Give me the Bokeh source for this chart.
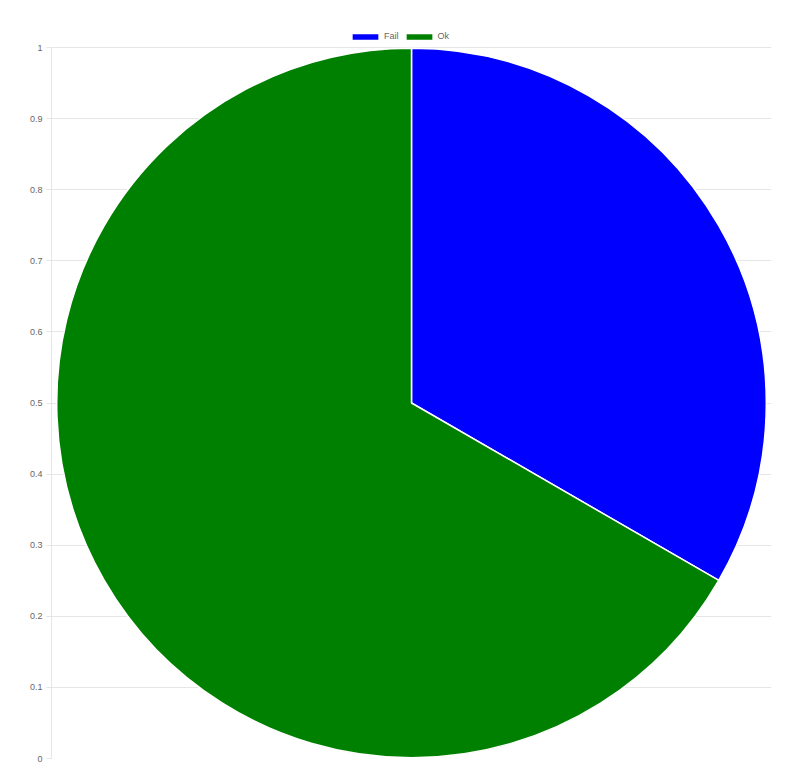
from math import pi

from bokeh.embed import file_html
from bokeh.models import ColumnDataSource, FixedTicker, Legend, LegendItem, Range1d
from bokeh.plotting import figure
from bokeh.resources import INLINE

# data
statuses = ["Fail", "Ok"]
counts = [1, 2]
colors = ["#0000ff", "#008000"]
y_ticks = [0, 0.1, 0.2, 0.3, 0.4, 0.5, 0.6, 0.7, 0.8, 0.9, 1]
y_tick_labels = ["0", "0.1", "0.2", "0.3", "0.4", "0.5", "0.6", "0.7", "0.8", "0.9", "1"]


def make_source():
    total = float(sum(counts))
    starts, ends = [], []
    acc = 0.0
    for c in counts:
        # start at 12 o'clock and go clockwise
        starts.append(pi / 2 - 2 * pi * acc / total)
        acc += c
        ends.append(pi / 2 - 2 * pi * acc / total)
    return ColumnDataSource(dict(status=statuses, count=counts, color=colors,
                                 start=starts, end=ends))


def pie():
    # 711px per unit on both axes, extra 25px on top holds the legend
    px = 711.0
    frame_w = 720
    aspect = frame_w / px
    top_pad = 25 / px

    p = figure(width=792, height=770,
               min_border_left=51, min_border_right=21, min_border_top=22,
               min_border_bottom=12, toolbar_location=None, output_backend="svg",
               x_range=Range1d(0, aspect), y_range=Range1d(0, 1 + top_pad))
    p.outline_line_color = None

    src = make_source()
    r = p.wedge(x=aspect / 2, y=0.5, radius=0.499, start_angle="start", end_angle="end",
                direction="clock", fill_color="color", line_color="white", line_width=1.5,
                source=src)

    p.xaxis.visible = False
    p.xgrid.visible = False

    ax = p.yaxis[0]
    ax.bounds = (0, 1)
    ax.ticker = FixedTicker(ticks=y_ticks)
    ax.major_label_overrides = dict(zip(y_ticks, y_tick_labels))
    ax.axis_line_color = "#e6e6e6"
    ax.major_tick_line_color = "#e6e6e6"
    ax.major_tick_out = 5
    ax.major_tick_in = 0
    ax.minor_tick_line_color = None
    ax.major_label_text_color = "#666666"
    ax.major_label_text_font = "Liberation Sans"
    ax.major_label_text_font_size = "9px"
    ax.major_label_standoff = 4
    p.ygrid.grid_line_color = "#e6e6e6"
    p.ygrid.ticker = FixedTicker(ticks=y_ticks)

    # legend above the pie, centred on the canvas
    # (bokeh insets area legend glyphs by 10%, so the glyph box is drawn larger)
    items = [LegendItem(label=s, renderers=[r], index=i) for i, s in enumerate(statuses)]
    leg = Legend(items=items, orientation="horizontal", location=(297, 717),
                 glyph_width=34, glyph_height=9, label_text_font="Liberation Sans",
                 label_text_font_size="9px", label_text_color="#666666",
                 label_standoff=2, label_width=0, spacing=3, padding=2, margin=0,
                 border_line_color=None, background_fill_alpha=0)
    p.add_layout(leg, "center")
    return p


if __name__ == "__main__":
    p = pie()
    open("out.html", "w").write(file_html(p, INLINE))
